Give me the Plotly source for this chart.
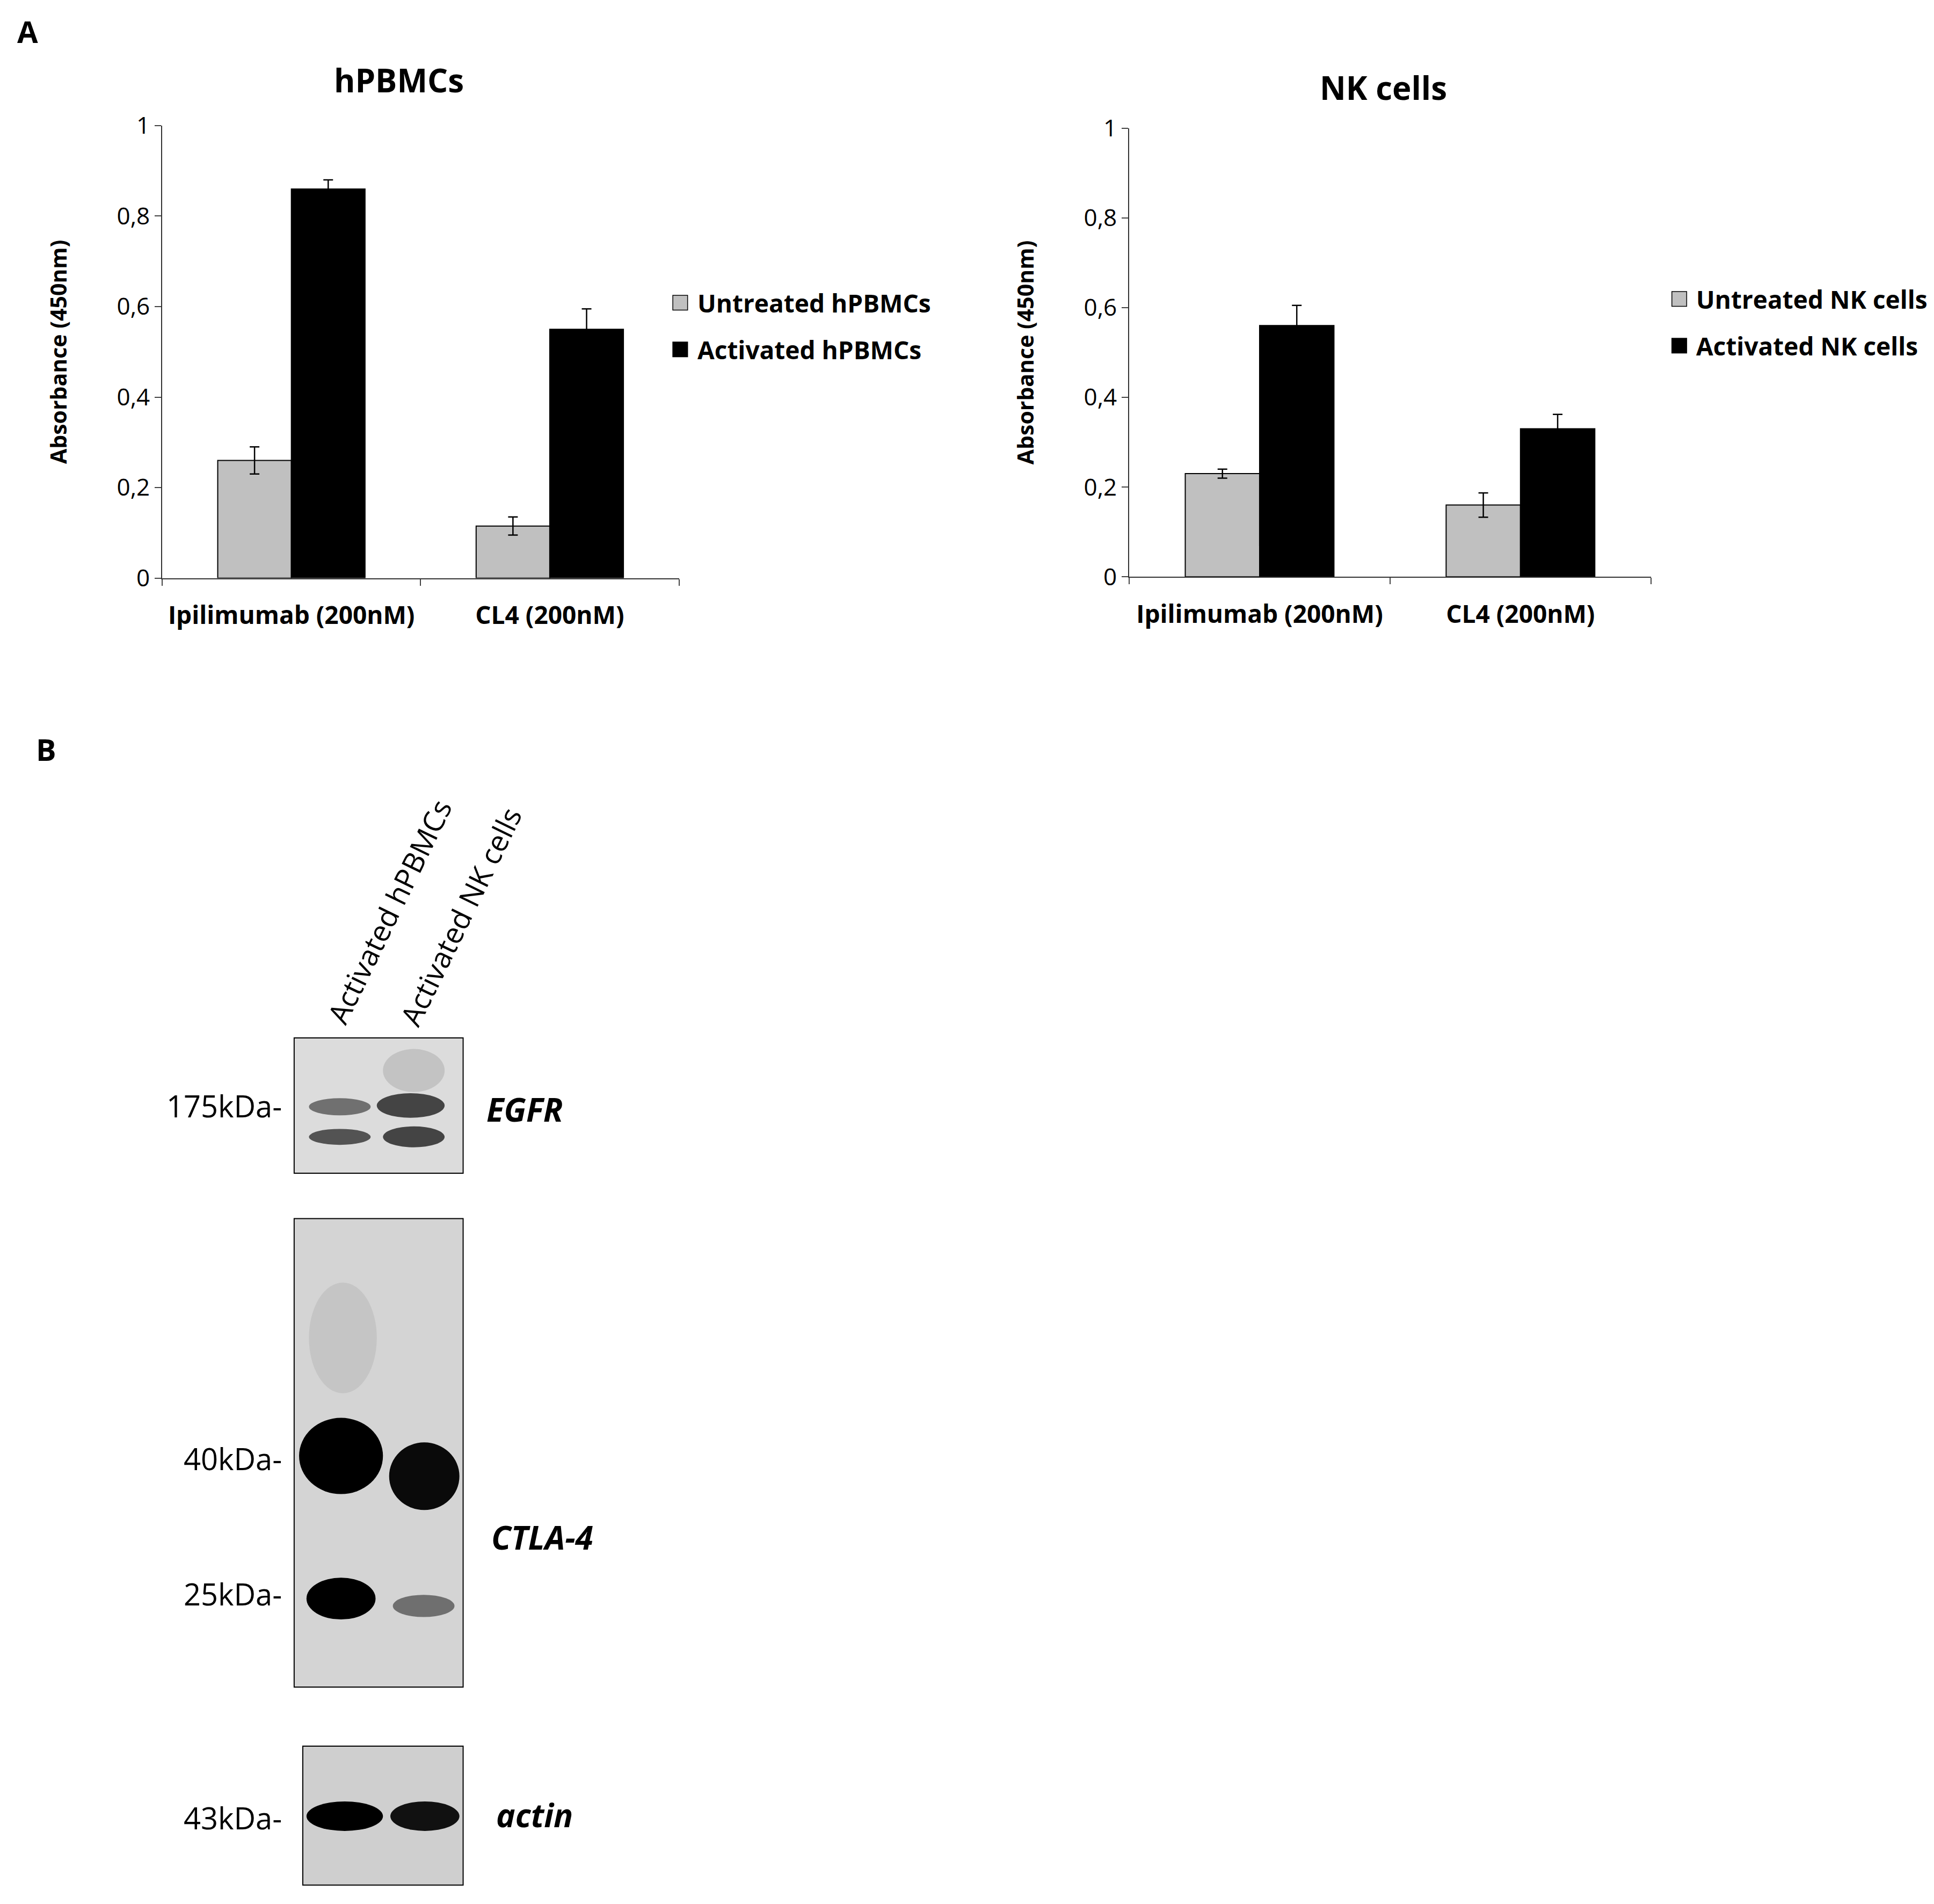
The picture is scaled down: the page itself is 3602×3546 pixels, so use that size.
import plotly.graph_objects as go

W, H = 3602, 3546
categories = ["Ipilimumab (200nM)", "CL4 (200nM)"]
pbmc_untreated = [0.26, 0.115]
pbmc_untreated_err = [0.03, 0.02]
pbmc_activated = [0.86, 0.55]
pbmc_activated_err = [0.02, 0.045]
nk_untreated = [0.23, 0.16]
nk_untreated_err = [0.01, 0.027]
nk_activated = [0.56, 0.33]
nk_activated_err = [0.045, 0.032]
yticks = [0, 0.2, 0.4, 0.6, 0.8, 1]
yticklabels = ["0", "0,2", "0,4", "0,6", "0,8", "1"]

def px(x): return (x - 3) / 1568
def py(y): return 1 - ((y - 14.3) / 0.986) / 1544

FONT = "Open Sans"
fig = go.Figure()
err = lambda v: dict(type="data", array=v, color="black", thickness=2.5, width=9)
fig.add_bar(x=categories, y=pbmc_untreated, error_y=err(pbmc_untreated_err), marker=dict(color="#c0c0c0", line=dict(color="black", width=2)), xaxis="x", yaxis="y", showlegend=False)
fig.add_bar(x=categories, y=pbmc_activated, error_y=err(pbmc_activated_err), marker=dict(color="black", line=dict(color="black", width=2)), xaxis="x", yaxis="y", showlegend=False)
fig.add_bar(x=categories, y=nk_untreated, error_y=err(nk_untreated_err), marker=dict(color="#c0c0c0", line=dict(color="black", width=2)), xaxis="x2", yaxis="y2", showlegend=False)
fig.add_bar(x=categories, y=nk_activated, error_y=err(nk_activated_err), marker=dict(color="black", line=dict(color="black", width=2)), xaxis="x2", yaxis="y2", showlegend=False)

xa = dict(showline=True, linecolor="#333", linewidth=2, ticks="outside", tickson="boundaries", ticklen=12, tickwidth=2,
          ticklabelstandoff=28,
          tickfont=dict(size=46, family=FONT, color="black", weight="bold"), fixedrange=True)
ya = dict(range=[0, 1], tickvals=yticks, ticktext=yticklabels, showline=True, linecolor="#333", linewidth=2, ticks="outside",
          ticklen=12, tickwidth=2, showgrid=False, zeroline=False, tickfont=dict(size=44, family=FONT, color="black"),
          title=dict(text="Absorbance (450nm)", font=dict(size=41, family=FONT, color="black", weight="bold"), standoff=80))
fig.update_layout(
    width=W, height=H, paper_bgcolor="white", plot_bgcolor="white", margin=dict(l=0, r=0, t=0, b=0),
    barmode="group", bargap=0.43, bargroupgap=0,
    xaxis=dict(xa, domain=[px(131), px(550)], anchor="y"),
    yaxis=dict(ya, domain=[py(467), py(99)], anchor="x"),
    xaxis2=dict(xa, domain=[px(915), px(1338)], anchor="y2"),
    yaxis2=dict(ya, domain=[py(466), py(101)], anchor="x2"),
)

shapes = []
ann = []
def text(x, y, s, size, bold=False, italic=False, xanchor="center", angle=0):
    ann.append(dict(x=px(x), y=py(y), xref="paper", yref="paper", text=(f"<i>{s}</i>" if italic else s), showarrow=False,
                    xanchor=xanchor, yanchor="middle", textangle=angle,
                    font=dict(size=size, family=FONT, color="black", weight="bold" if bold else "normal")))
def rect(x0, y0, x1, y1, fill, line="black", lw=2):
    shapes.append(dict(type="rect", xref="paper", yref="paper", x0=px(x0), x1=px(x1), y0=py(y1), y1=py(y0),
                       fillcolor=fill, line=dict(color=line, width=lw)))
def blob(x0, y0, x1, y1, fill, op=1):
    shapes.append(dict(type="circle", xref="paper", yref="paper", x0=px(x0), x1=px(x1), y0=py(y1), y1=py(y0),
                       fillcolor=fill, opacity=op, line=dict(width=0)))

text(22, 22, "A", 56, bold=True)
text(37, 606, "B", 56, bold=True)
text(323, 62, "hPBMCs", 60, bold=True)
text(1121, 68, "NK cells", 60, bold=True)
for (lx, ly, col, s) in [(545, 243, "#c0c0c0", "Untreated hPBMCs"), (545, 281, "black", "Activated hPBMCs"),
                         (1355, 240, "#c0c0c0", "Untreated NK cells"), (1355, 278, "black", "Activated NK cells")]:
    rect(lx, ly - 6, lx + 12, ly + 6, col, lw=1.5)
    text(lx + 19, ly, s, 46, bold=True, xanchor="left")

rect(238, 841, 375, 951, "#dcdcdc")
blob(250, 890, 300, 904, "#555", 0.8)
blob(305, 886, 360, 906, "#333", 0.9)
blob(250, 915, 300, 928, "#444", 0.9)
blob(310, 913, 360, 930, "#333", 0.9)
blob(310, 850, 360, 885, "#aaa", 0.5)
rect(238, 988, 375, 1369, "#d4d4d4")
blob(250, 1040, 305, 1130, "#b5b5b5", 0.5)
blob(242, 1150, 310, 1212, "black")
blob(315, 1170, 372, 1225, "#0a0a0a")
blob(248, 1280, 304, 1314, "black")
blob(318, 1294, 368, 1312, "#555", 0.8)
rect(245, 1417, 375, 1530, "#cfcfcf")
blob(248, 1462, 310, 1486, "black")
blob(316, 1462, 372, 1486, "#111")
text(229, 896, "175kDa-", 56, xanchor="right")
text(229, 1183, "40kDa-", 56, xanchor="right")
text(229, 1293, "25kDa-", 56, xanchor="right")
text(229, 1475, "43kDa-", 56, xanchor="right")
text(393, 899, "EGFR", 60, bold=True, italic=True, xanchor="left")
text(397, 1247, "CTLA-4", 60, bold=True, italic=True, xanchor="left")
text(401, 1473, "actin", 60, bold=True, italic=True, xanchor="left")
text(315, 738, "Activated hPBMCs", 54, angle=-64)
text(373, 742, "Activated NK cells", 54, angle=-64)

fig.update_layout(shapes=shapes, annotations=ann)
fig.write_html("out.html")
